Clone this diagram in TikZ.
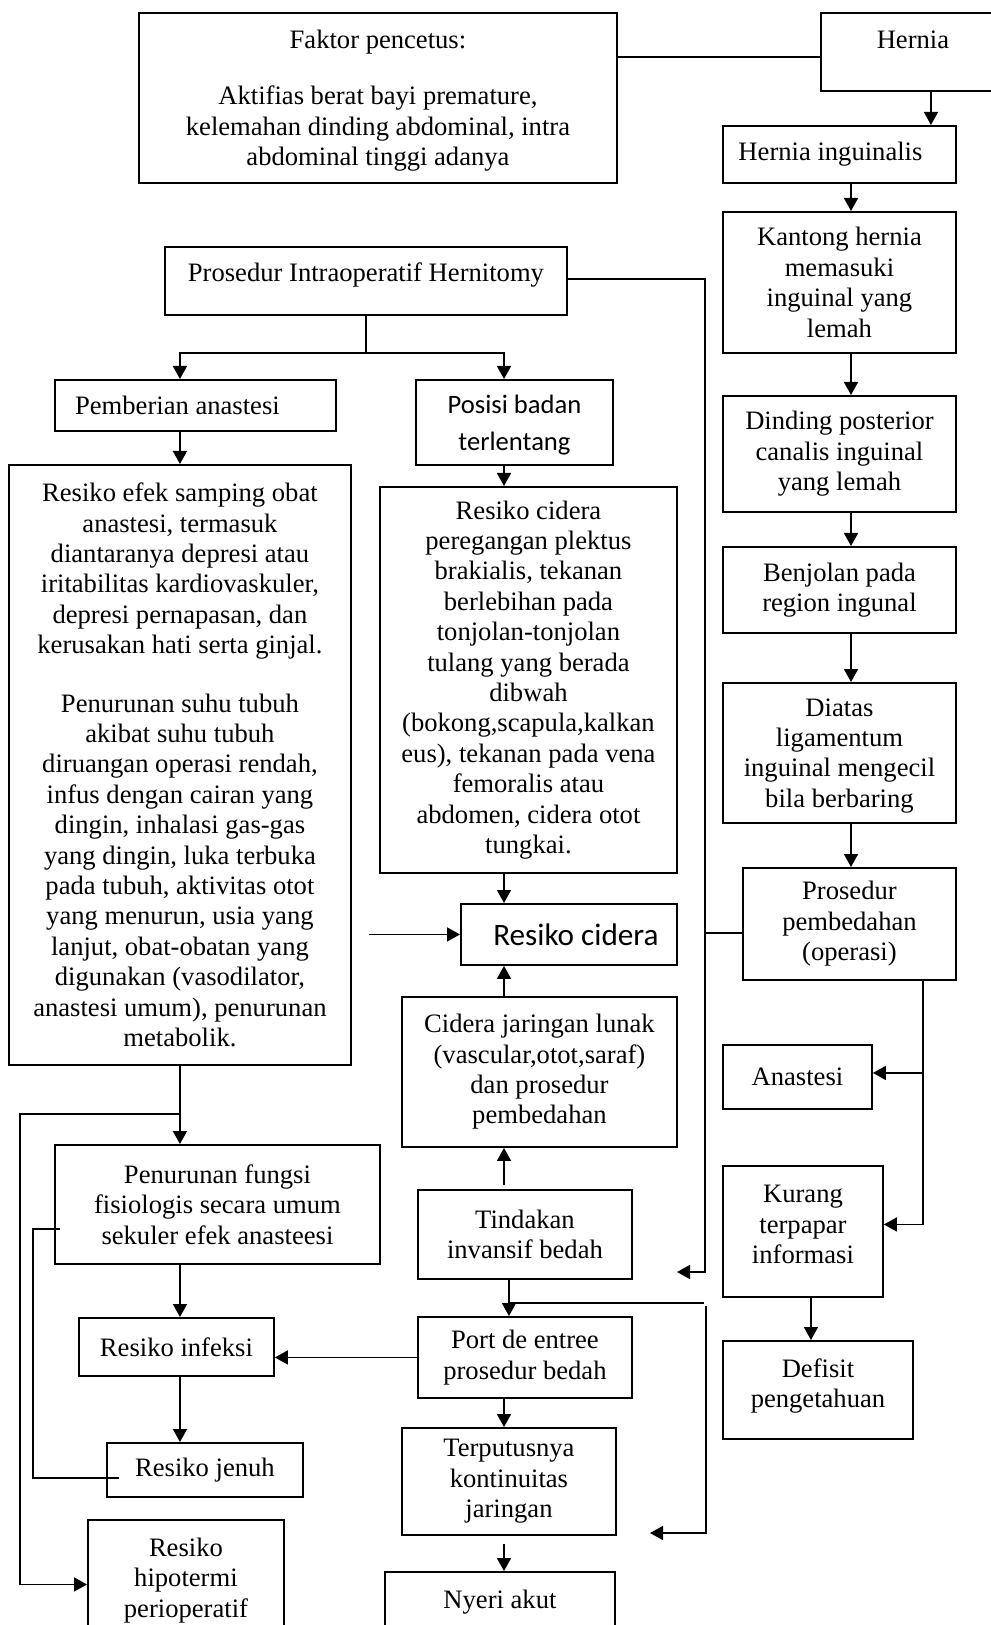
\documentclass[tikz,border=0pt]{standalone}
\usepackage{fontspec}
\setmainfont{Liberation Serif}
\newfontfamily\carlito{Carlito}
\usetikzlibrary{arrows.meta}

\begin{document}
\begin{tikzpicture}[
    x = 0.5pt, y = -0.5pt,
    every node/.style = {font = \fontsize{13.3}{15.2}\selectfont},
    box/.style = {draw, line width = 0.95pt, inner sep = 0pt, align = center, anchor = north west},
    wh/.style 2 args = {minimum width = #1*0.5pt, minimum height = #2*0.5pt},
    calib/.style = {font = \carlito\fontsize{13.3}{18.5}\selectfont},
    link/.style = {line width = 0.85pt},
    arr/.style = {link, -{Triangle[length = 6.5pt, width = 7pt]}}]

\useasboundingbox (0,0) rectangle (990,1625);

\node[box, wh={478}{170}, text depth=0pt] (faktor) at (138,12) {Faktor pencetus:\\[13pt]
    Aktifias berat bayi premature,\\ kelemahan dinding abdominal, intra\\ abdominal tinggi adanya};
\node[box, wh={184}{78}, text depth=12pt] (hernia) at (820,12) {Hernia};
\node[box, wh={233}{57}] (hinguinal) at (722,125) {Hernia inguinalis\hspace*{9pt}};
\node[box, wh={233}{141}] (kantong) at (722,211) {Kantong hernia\\ memasuki\\ inguinal yang\\ lemah};
\node[box, wh={233}{116}] (dinding) at (722,395) {Dinding posterior\\ canalis inguinal\\ yang lemah};
\node[box, wh={233}{86}] (benjolan) at (722,546) {Benjolan pada\\ region ingunal};
\node[box, wh={233}{140}, text depth=-2.3pt] (diatas) at (722,682) {Diatas\\ ligamentum\\ inguinal mengecil\\ bila berbaring};
\node[box, wh={213}{112}] (operasi) at (742,867) {Prosedur\\ pembedahan\\ (operasi)};
\node[box, wh={149}{64}] (anastesi) at (722,1044) {Anastesi};
\node[box, wh={160}{131}, text depth=7pt] (kurang) at (722,1165) {Kurang\\ terpapar\\ informasi};
\node[box, wh={190}{98}, text depth=7pt] (defisit) at (722,1340) {Defisit\\ pengetahuan};

\node[box, wh={402}{68}, text depth=9pt] (hernitomy) at (164,246) {Prosedur Intraoperatif Hernitomy};
\node[box, wh={281}{51}] (pemberian) at (54,379) {Pemberian anastesi\hspace*{18pt}};
\node[box, wh={197}{85}, calib, text depth=-2.3pt] (posisi) at (415,379) {Posisi badan\\ terlentang};
\node[box, wh={342}{600}] (efek) at (8,464) {Resiko efek samping obat\\ anastesi, termasuk\\
    diantaranya depresi atau\\ iritabilitas kardiovaskuler,\\ depresi pernapasan, dan\\
    kerusakan hati serta ginjal.\\[14pt] Penurunan suhu tubuh\\ akibat suhu tubuh\\
    diruangan operasi rendah,\\ infus dengan cairan yang\\ dingin, inhalasi gas-gas\\
    yang dingin, luka terbuka\\ pada tubuh, aktivitas otot\\ yang menurun, usia yang\\
    lanjut, obat-obatan yang\\ digunakan (vasodilator,\\ anastesi umum), penurunan\\ metabolik.};
\node[box, wh={297}{386}] (regangan) at (379,486) {Resiko cidera\\ peregangan plektus\\
    brakialis, tekanan\\ berlebihan pada\\ tonjolan-tonjolan\\ tulang yang berada\\ dibwah\\
    (bokong,scapula,kalkan\\ eus), tekanan pada vena\\ femoralis atau\\ abdomen, cidera otot\\ tungkai.};
\node[box, wh={216}{61}, font=\carlito\fontsize{15.6}{19}\selectfont] (cidera) at (460,903) {\hspace*{7pt}Resiko cidera};
\node[box, wh={275}{150}] (lunak) at (401,996) {Cidera jaringan lunak\\ (vascular,otot,saraf)\\ dan prosedur\\ pembedahan};
\node[box, wh={325}{119}] (fungsi) at (54,1144) {Penurunan fungsi\\ fisiologis secara umum\\ sekuler efek anasteesi};
\node[box, wh={214}{89}] (tindakan) at (417,1189) {Tindakan\\ invansif bedah};
\node[box, wh={195}{58}] (infeksi) at (78,1317) {Resiko infeksi};
\node[box, wh={214}{81}] (entree) at (417,1316) {Port de entree\\ prosedur bedah};
\node[box, wh={196}{54}] (jenuh) at (106,1442) {Resiko jenuh};
\node[box, wh={214}{107}] (putus) at (401,1427) {Terputusnya\\ kontinuitas\\ jaringan};
\node[box, wh={196}{121}] (hipotermi) at (87,1519) {Resiko\\ hipotermi\\ perioperatif};
\node[box, wh={230}{61}] (nyeri) at (384,1571) {Nyeri akut};

\coordinate (rc) at (851,0);
\coordinate (rr) at (923,0);
\coordinate (rl) at (705,0);
\coordinate (mc) at (504,0);
\coordinate (f1) at (677,1272);
\coordinate (k1) at (706,1306);
\coordinate (f2) at (650,1533);

\draw[link] (faktor.north east) ++(0,45) coordinate (h1) -- (hernia.west |- h1);
\draw[arr] ([xshift=9pt]hernia.south) coordinate (h2) -- (h2 |- hinguinal.north);
\draw[arr] (rc |- hinguinal.south) -- (rc |- kantong.north);
\draw[arr] (rc |- kantong.south) -- (rc |- dinding.north);
\draw[arr] (rc |- dinding.south) -- (rc |- benjolan.north);
\draw[arr] (rc |- benjolan.south) -- (rc |- diatas.north);
\draw[arr] (rc |- diatas.south) -- (rc |- operasi.north);
\draw[arr] (rr |- operasi.south) |- ([yshift=3.5pt]kurang.east);
\path ([yshift=2pt]anastesi.east) coordinate (a1);
\draw[arr] (rr |- a1) -- (a1);
\draw[arr] ([xshift=4pt]kurang.south) coordinate (d1) -- (d1 |- defisit.north);

\draw[link] (hernitomy.south) -- ++(0,37) coordinate (sp);
\draw[arr] (sp) -| (efek.north |- pemberian.north);
\draw[arr] (sp) -| (mc |- posisi.north);
\draw[arr] (efek.north |- pemberian.south) -- (efek.north);
\draw[arr] (mc |- posisi.south) -- (mc |- regangan.north);
\draw[arr] ([yshift=1pt]hernitomy.east) -| (rl |- f1) -- (f1);
\draw[link] ([yshift=-4.5pt]operasi.west) coordinate (o1) -- (rl |- o1);

\draw[arr, line width=0.6pt] (mc |- regangan.south) -- (mc |- cidera.north);
\draw[arr] (mc |- lunak.north) -- (mc |- cidera.south);
\draw[arr] (mc |- tindakan.north) ++(0,-4) -- (mc |- lunak.south);
\draw[arr] (efek.east |- cidera.west) ++(17,0) -- (cidera.west);
\draw[arr] ([xshift=-8pt]tindakan.south) coordinate (t1) -- (t1 |- entree.north);
\draw[link] (t1) ++(0,23) -- ++(195,0);
\draw[arr] (k1) |- (f2);

\draw[arr] (efek.south) -- (efek.south |- fungsi.north);
\draw[arr] (efek.south) ++(0,48) -- ++(-160,0) |- ([yshift=-2pt]hipotermi.west);
\draw[arr] (efek.south |- fungsi.south) -- (efek.south |- infeksi.north);
\draw[arr] (entree.west) -- (infeksi.east |- entree.west);
\draw[arr] (efek.south |- infeksi.south) -- (efek.south |- jenuh.north);
\draw[link] ([xshift=6.5pt, yshift=-4pt]jenuh.west) -| ++(-86,-249) -- ++(27,0);
\draw[arr] (mc |- entree.south) -- (mc |- putus.north);
\draw[arr] (mc |- putus.south) ++(0,8) -- (mc |- nyeri.north);
\end{tikzpicture}
\end{document}
